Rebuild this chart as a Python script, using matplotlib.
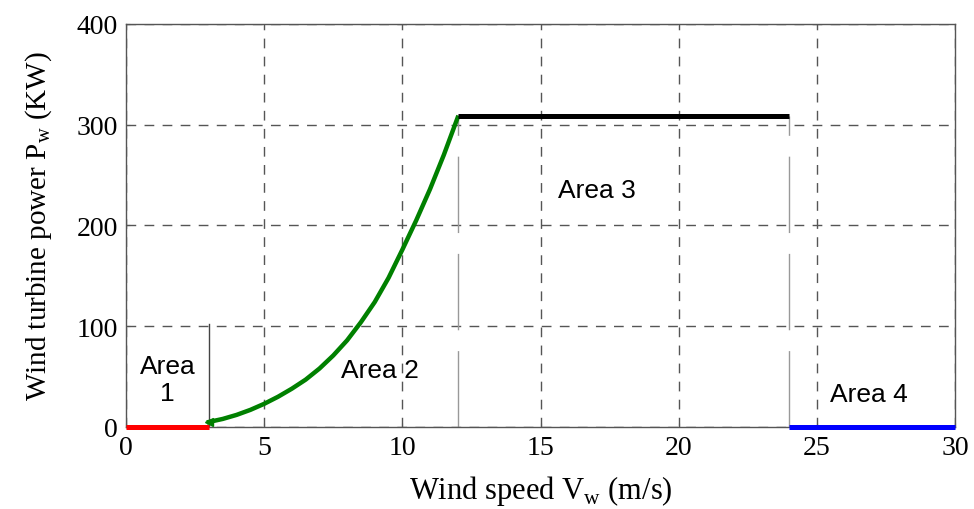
import matplotlib
matplotlib.use('Agg')
import matplotlib.pyplot as plt

plt.rcParams['font.family'] = 'Liberation Serif'
plt.rcParams['mathtext.fontset'] = 'custom'
plt.rcParams['mathtext.rm'] = 'Liberation Serif'

# power curve regions (m/s, kW)
area1_v = [0, 3]
area1_p = [0, 0]
area2_v = [3, 3.5, 4, 4.5, 5, 5.5, 6, 6.5, 7, 7.5, 8, 8.5, 9, 9.5, 10, 10.5, 11, 11.5, 12]
area2_p = [5, 8, 12, 17, 23, 30, 38, 47, 58, 71, 86, 104, 124, 148, 176, 205, 236, 270, 307]
area3_v = [12, 24]
area3_p = [309, 309]
area4_v = [24, 30]
area4_p = [0, 0]

cut_in = 3
rated = 12
cut_out = 24

fig = plt.figure(figsize=(9.74, 5.10), dpi=100)
ax = fig.add_axes([0.1294, 0.1608, 0.8511, 0.7902])

# region boundaries
ax.plot([cut_in, cut_in], [0, 102], color='#444444', lw=1.0)
ax.plot([rated, rated], [0, area3_p[0]], color='#999999', lw=1.0, dashes=(55, 15))
ax.plot([cut_out, cut_out], [0, area3_p[0]], color='#999999', lw=1.0, dashes=(55, 15))

ax.plot(area1_v, area1_p, color='#ff0000', lw=3.6, solid_capstyle='butt', clip_on=False, zorder=5)
ax.plot(area2_v, area2_p, color='#008000', lw=3.2, zorder=5)
ax.plot(area2_v[0], area2_p[0], marker='<', color='#008000', ms=6, zorder=5)
ax.plot(area3_v, area3_p, color='black', lw=3.6, solid_capstyle='butt', zorder=5)
ax.plot(area4_v, area4_p, color='#0000ff', lw=3.6, solid_capstyle='butt', clip_on=False, zorder=5)

area_font = dict(family='Liberation Sans', fontsize=19, ha='center', va='center')
ax.text(1.5, 47, 'Area\n1', linespacing=1.15, **area_font)
ax.text(9.2, 57, 'Area 2', **area_font)
ax.text(17.05, 235, 'Area 3', **area_font)
ax.text(26.9, 33, 'Area 4', **area_font)

ax.set_xlim(0, 30)
ax.set_ylim(0, 400)
ax.set_xticks([0, 5, 10, 15, 20, 25, 30])
ax.set_yticks([0, 100, 200, 300, 400])
ax.tick_params(direction='in', length=3, labelsize=20, color='#555555', pad=6)
ax.grid(True, color='#555555', lw=1.0, dashes=(7, 6))
for s in ax.spines.values():
    s.set_color('#555555')
    s.set_linewidth(1.0)

ax.set_xlabel(r'Wind speed V$_{\mathrm{w}}$ (m/s)', fontsize=22, labelpad=9)
ax.set_ylabel(r'Wind turbine power P$_{\mathrm{w}}$ (KW)', fontsize=21, labelpad=16)

fig.savefig('out.png', dpi=100)
